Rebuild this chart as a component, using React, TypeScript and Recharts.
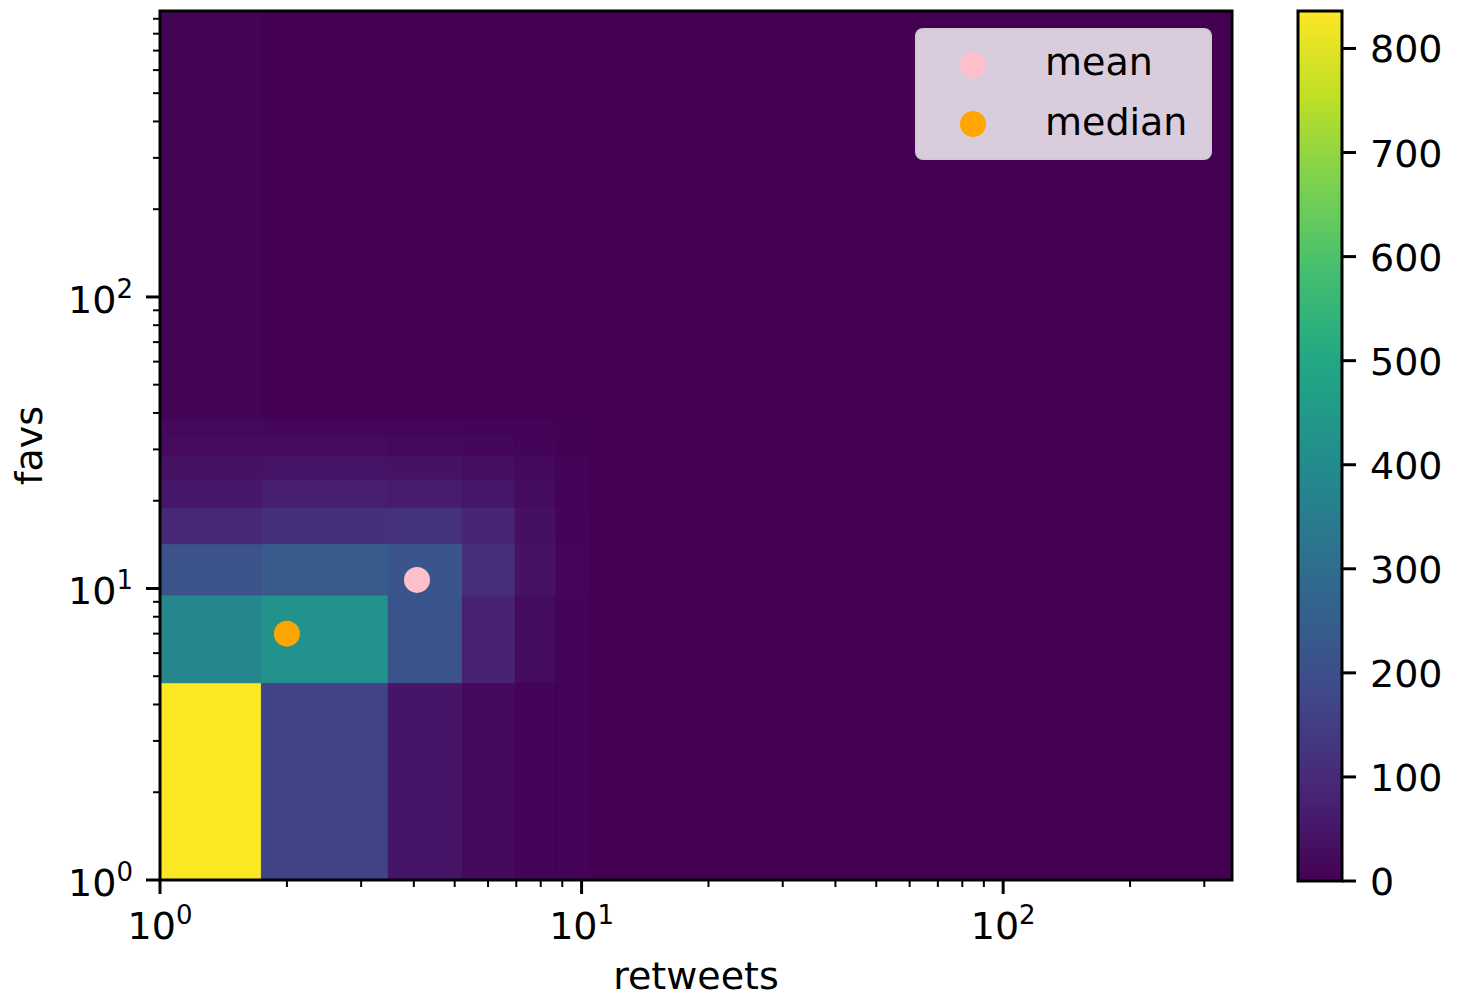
import React from "react";
import {
  ScatterChart,
  ComposedChart,
  Scatter,
  XAxis,
  YAxis,
  ReferenceArea,
  Legend,
} from "recharts";

const FONT = "'DejaVu Sans', sans-serif";

// axis limits (log scales)
const X_MIN = 1;
const X_MAX = 349;
const Y_MIN = 1;
const Y_MAX = 957;
const C_MAX = 836;

const xTicks = [1, 2, 3, 4, 5, 6, 7, 8, 9, 10, 20, 30, 40, 50, 60, 70, 80, 90, 100, 200, 300];
const yTicks = [
  1, 2, 3, 4, 5, 6, 7, 8, 9, 10, 20, 30, 40, 50, 60, 70, 80, 90, 100, 200, 300, 400, 500,
  600, 700, 800, 900,
];
const cbarTicks = [0, 100, 200, 300, 400, 500, 600, 700, 800];

// hist2d bin edges (linear bins) for the non-empty corner
const xEdges = [0, 1.74, 3.48, 5.22, 6.96, 8.7, 10.44];
const yEdges = [0, 4.75, 9.5, 14.25, 19, 23.75, 28.5, 33.25, 38];

// counts[row][col], rows = favs bins bottom->top, cols = retweets bins left->right
const counts = [
  [835, 165, 48, 22, 10, 4],
  [385, 420, 215, 80, 25, 8],
  [210, 240, 220, 110, 40, 12],
  [95, 115, 120, 85, 35, 10],
  [55, 70, 65, 50, 25, 8],
  [40, 45, 40, 30, 18, 5],
  [25, 25, 20, 15, 10, 3],
  [18, 15, 12, 8, 5, 2],
];
// thin tail of tweets with 0-1 retweets and many favs
const col0Tail = 6;

const meanPoint = [{ retweets: 4.07, favs: 10.7 }];
const medianPoint = [{ retweets: 2, favs: 7 }];

const viridisStops = [
  "#440154", "#482475", "#414487", "#355f8d", "#2a788e", "#21918c",
  "#22a884", "#44bf70", "#7ad151", "#bddf26", "#fde725",
];

function hexToRgb(h: string) {
  return [1, 3, 5].map((i) => parseInt(h.slice(i, i + 2), 16));
}

function viridis(t: number) {
  const c = Math.min(1, Math.max(0, t)) * (viridisStops.length - 1);
  const i = Math.min(Math.floor(c), viridisStops.length - 2);
  const f = c - i;
  const a = hexToRgb(viridisStops[i]);
  const b = hexToRgb(viridisStops[i + 1]);
  const m = a.map((v, k) => Math.round(v + (b[k] - v) * f));
  return `rgb(${m[0]},${m[1]},${m[2]})`;
}

type Cell = { x1: number; x2: number; y1: number; y2: number; count: number };

const cells: Cell[] = [];
counts.forEach((row, r) =>
  row.forEach((count, k) =>
    cells.push({
      x1: Math.max(xEdges[k], X_MIN),
      x2: xEdges[k + 1],
      y1: Math.max(yEdges[r], Y_MIN),
      y2: yEdges[r + 1],
      count,
    })
  )
);
cells.push({
  x1: X_MIN,
  x2: xEdges[1],
  y1: yEdges[yEdges.length - 1],
  y2: Y_MAX,
  count: col0Tail,
});

function isDecade(v: number) {
  const e = Math.log10(v);
  return Math.abs(e - Math.round(e)) < 1e-6;
}

function XTick(props: any) {
  const { x, y, payload } = props;
  const major = isDecade(payload.value);
  return (
    <g>
      <line x1={x} x2={x} y1={y} y2={y + (major ? 14 : 7)} stroke="#000" strokeWidth={major ? 3 : 2} />
      {major && (
        <text x={x} y={y + 59} textAnchor="middle" fontSize={38} fontFamily={FONT} fill="#000">
          10
          <tspan dy={-15} fontSize={26}>
            {Math.round(Math.log10(payload.value))}
          </tspan>
        </text>
      )}
    </g>
  );
}

function YTick(props: any) {
  const { x, y, payload } = props;
  const major = isDecade(payload.value);
  return (
    <g>
      <line x1={x - (major ? 14 : 7)} x2={x} y1={y} y2={y} stroke="#000" strokeWidth={major ? 3 : 2} />
      {major && (
        <text x={x - 27} y={y + 16} textAnchor="end" fontSize={38} fontFamily={FONT} fill="#000">
          10
          <tspan dy={-15} fontSize={26}>
            {Math.round(Math.log10(payload.value))}
          </tspan>
        </text>
      )}
    </g>
  );
}

function CbarTick(props: any) {
  const { x, y, payload } = props;
  return (
    <g>
      <line x1={x} x2={x + 14} y1={y} y2={y} stroke="#000" strokeWidth={3} />
      <text x={x + 28} y={y + 14} textAnchor="start" fontSize={38} fontFamily={FONT} fill="#000">
        {payload.value}
      </text>
    </g>
  );
}

function LegendBox(props: any) {
  const payload = props.payload || [];
  return (
    <div
      style={{
        width: 297,
        height: 132,
        boxSizing: "border-box",
        background: "rgba(255,255,255,0.8)",
        border: "2px solid rgba(204,204,204,0.8)",
        borderRadius: 8,
      }}
    >
      <svg width={293} height={128} style={{ display: "block" }}>
        {payload.map((e: any, i: number) => (
          <g key={e.value}>
            <circle cx={56} cy={35 + i * 59} r={13} fill={e.color} />
            <text x={128} y={45 + i * 60} fontSize={38} fontFamily={FONT} fill="#000">
              {e.value}
            </text>
          </g>
        ))}
      </svg>
    </div>
  );
}

const dot = (color: string) => (p: any) => <circle cx={p.cx} cy={p.cy} r={13} fill={color} />;

export default function App() {
  return (
    <div style={{ position: "absolute", left: 0, top: 0, width: 1462, height: 1000, background: "#fff" }}>
      <div style={{ position: "absolute", left: 0, top: 0 }}>
        <ScatterChart width={1250} height={1000} margin={{ top: 11, right: 18, bottom: 7, left: 10 }}>
          <XAxis
            type="number"
            dataKey="retweets"
            scale="log"
            domain={[X_MIN, X_MAX]}
            allowDataOverflow
            ticks={xTicks}
            interval={0}
            tick={<XTick />}
            tickSize={0}
            tickMargin={0}
            tickLine={false}
            axisLine={false}
            height={113}
            label={{
              value: "retweets",
              position: "insideBottom",
              offset: 4,
              fill: "#000",
              fontSize: 38,
              fontFamily: FONT,
            }}
          />
          <YAxis
            type="number"
            dataKey="favs"
            scale="log"
            domain={[Y_MIN, Y_MAX]}
            allowDataOverflow
            ticks={yTicks}
            interval={0}
            tick={<YTick />}
            tickSize={0}
            tickMargin={0}
            tickLine={false}
            axisLine={false}
            width={150}
            label={{
              value: "favs",
              content: (p: any) => {
                const vb = p.viewBox;
                const lx = vb.x + 32;
                const ly = vb.y + vb.height / 2;
                return (
                  <text
                    x={lx}
                    y={ly}
                    transform={`rotate(-90, ${lx}, ${ly})`}
                    textAnchor="middle"
                    fontSize={38}
                    fontFamily={FONT}
                    fill="#000"
                  >
                    favs
                  </text>
                );
              },
            }}
          />
          <ReferenceArea
            x1={X_MIN}
            x2={X_MAX}
            y1={Y_MIN}
            y2={Y_MAX}
            fill={viridis(0)}
            fillOpacity={1}
            stroke="none"
            ifOverflow="visible"
          />
          {cells.map((c, i) => {
            const col = viridis(c.count / C_MAX);
            return (
              <ReferenceArea
                key={i}
                x1={c.x1}
                x2={c.x2}
                y1={c.y1}
                y2={c.y2}
                fill={col}
                fillOpacity={1}
                stroke={col}
                strokeWidth={1}
                ifOverflow="visible"
              />
            );
          })}
          <ReferenceArea
            x1={X_MIN}
            x2={X_MAX}
            y1={Y_MIN}
            y2={Y_MAX}
            fill="none"
            fillOpacity={0}
            stroke="#000"
            strokeWidth={3}
            ifOverflow="visible"
          />
          <Scatter
            name="mean"
            data={meanPoint}
            fill="#ffc0cb"
            shape={dot("#ffc0cb")}
            isAnimationActive={false}
          />
          <Scatter
            name="median"
            data={medianPoint}
            fill="#ffa500"
            shape={dot("#ffa500")}
            isAnimationActive={false}
          />
          <Legend
            layout="vertical"
            align="center"
            verticalAlign="middle"
            content={<LegendBox />}
            wrapperStyle={{ left: 915, top: 28, width: 297, height: 132 }}
          />
        </ScatterChart>
      </div>
      <div style={{ position: "absolute", left: 1250, top: 0 }}>
        <ComposedChart
          width={212}
          height={1000}
          margin={{ top: 11, right: 0, bottom: 119, left: 48 }}
          data={[{ x: 0 }, { x: 1 }]}
        >
          <defs>
            <linearGradient id="viridisBar" x1="0" y1="1" x2="0" y2="0">
              {viridisStops.map((c, i) => (
                <stop key={c} offset={i / (viridisStops.length - 1)} stopColor={c} />
              ))}
            </linearGradient>
          </defs>
          <XAxis type="number" dataKey="x" domain={[0, 1]} hide allowDataOverflow />
          <YAxis
            type="number"
            orientation="right"
            domain={[0, C_MAX]}
            allowDataOverflow
            ticks={cbarTicks}
            interval={0}
            tick={<CbarTick />}
            tickSize={0}
            tickMargin={0}
            tickLine={false}
            axisLine={false}
            width={120}
          />
          <ReferenceArea
            x1={0}
            x2={1}
            y1={0}
            y2={C_MAX}
            fill="url(#viridisBar)"
            fillOpacity={1}
            stroke="#000"
            strokeWidth={3}
            ifOverflow="visible"
          />
        </ComposedChart>
      </div>
    </div>
  );
}
